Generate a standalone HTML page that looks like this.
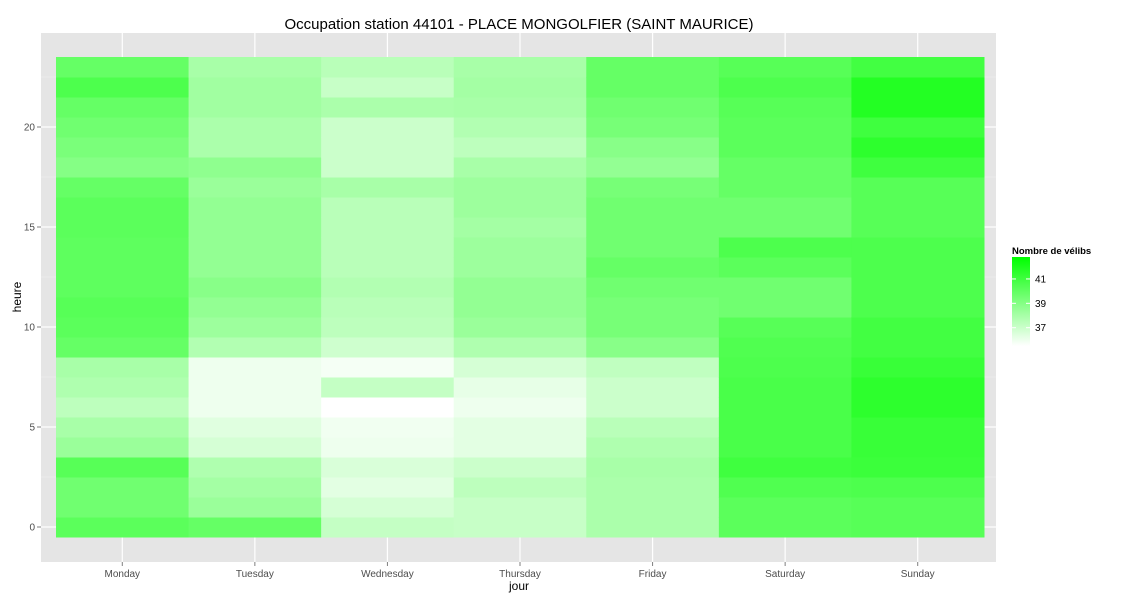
<!DOCTYPE html>
<html><head><meta charset="utf-8">
<style>body{margin:0;background:#fff;font-family:"Liberation Sans",sans-serif;}</style>
</head><body>
<svg id="chart" width="1125" height="600" xmlns="http://www.w3.org/2000/svg" font-family="Liberation Sans, sans-serif">
<rect x="41" y="33" width="955" height="529" fill="#e5e5e5"/>
<g id="grid"></g>
<g id="tiles"></g>
<g id="axes"></g>
<text x="519" y="29" font-size="15" text-anchor="middle" fill="#000">Occupation station 44101 - PLACE MONGOLFIER (SAINT MAURICE)</text>
<text x="519" y="590" font-size="12" text-anchor="middle">jour</text>
<text x="21" y="297" font-size="12" text-anchor="middle" transform="rotate(-90 21 297)">heure</text>
<g>
<text x="1012" y="254" font-size="9.5" font-weight="bold">Nombre de vélibs</text>
<defs><linearGradient id="lg" x1="0" y1="0" x2="0" y2="1"><stop offset="0" stop-color="#00ff00"/><stop offset="1" stop-color="#ffffff"/></linearGradient></defs>
<rect x="1012" y="257" width="18" height="89" fill="url(#lg)"/>
<g id="legend-ticks"></g>
</g>
</svg>
<script>
const days = ["Monday","Tuesday","Wednesday","Thursday","Friday","Saturday","Sunday"];
const yTicks = [0,5,10,15,20];
const legendTicks = [37,39,41];
const monday = [40.2,39.6,39.6,40.3,38.4,38.0,37.4,37.8,38.0,39.9,40.2,40.3,40.1,40.1,40.1,40.2,40.2,39.9,39.0,39.3,39.6,39.9,40.6,39.9];
const tuesday = [39.9,38.4,38.1,37.8,36.7,36.4,36.0,36.0,36.0,37.7,38.3,38.6,38.9,38.6,38.6,38.6,38.6,38.4,38.7,37.9,37.9,38.2,38.2,38.0];
const wednesday = [37.2,36.7,36.3,36.6,36.0,35.9,35.5,37.2,35.8,36.9,37.4,37.5,37.7,37.5,37.5,37.5,37.5,38.0,37.0,37.0,37.0,37.9,37.1,37.5];
const thursday = [37.1,37.1,37.4,37.0,36.3,36.3,36.0,36.2,36.7,37.8,38.4,38.6,38.6,38.3,38.3,38.1,38.3,38.3,38.0,37.4,37.7,38.0,38.1,38.0];
const friday = [37.9,37.9,37.9,38.0,37.8,37.5,37.0,37.0,37.3,38.9,39.4,39.4,39.6,39.9,39.6,39.6,39.6,39.4,38.6,38.9,39.4,39.6,39.9,39.9];
const saturday = [40.2,40.2,40.5,41.0,40.7,40.7,40.7,40.7,40.6,40.5,40.3,39.6,39.6,40.2,40.6,39.6,39.6,39.9,39.9,40.2,40.2,40.3,40.6,40.3];
const sunday = [40.3,40.3,40.6,41.1,41.2,41.2,41.5,41.5,41.2,40.9,40.9,40.6,40.6,40.6,40.6,40.3,40.3,40.3,41.0,41.5,41.0,41.8,41.8,40.9];
const series = [monday,tuesday,wednesday,thursday,friday,saturday,sunday];

const NS="http://www.w3.org/2000/svg";
const colW=(984-56)/7;
function xLeft(i){return 56+i*colW;}
function xCenter(i){return xLeft(i)+colW/2;}
function yH(h){return 527-h*20;}
const lo=35.5, hi=42.8;
function color(v){let t=(v-lo)/(hi-lo);t=Math.max(0,Math.min(1,t));const c=Math.round(255*(1-t));return `rgb(${c},255,${c})`;}
function legY(v){return 346-(v-lo)/(hi-lo)*89;}
function mk(tag,attrs,parent){const e=document.createElementNS(NS,tag);for(const k in attrs)e.setAttribute(k,attrs[k]);parent.appendChild(e);return e;}

const grid=document.getElementById('grid');
for(let h=-2.5;h<=25;h+=2.5){const y=yH(h);if(y<33||y>562)continue;
 const l=mk('line',{x1:41,x2:996,y1:y,y2:y,stroke:(h%5===0)?'#ffffff':'#f2f2f2','stroke-width':(h%5===0)?1.2:0.6},grid);
 
 }
days.forEach((d,i)=>{const l=mk('line',{x1:xCenter(i),x2:xCenter(i),y1:33,y2:562,stroke:'#ffffff','stroke-width':1.2},grid);
 
 });

const tiles=document.getElementById('tiles');
series.forEach((s,i)=>{s.forEach((v,h)=>{
 const r=mk('rect',{x:xLeft(i),y:yH(h)-10,width:colW+0.5,height:20.5,fill:color(v)},tiles);
 
 });});

const axes=document.getElementById('axes');
yTicks.forEach(t=>{const y=yH(t);
 const tk=mk('line',{x1:37,x2:41,y1:y,y2:y,stroke:'#7f7f7f'},axes);
 
 
 const tx=mk('text',{x:35,y:y+3.5,'font-size':10,'text-anchor':'end',fill:'#4d4d4d'},axes);tx.textContent=t;
 
 });
days.forEach((d,i)=>{const x=xCenter(i);
 const tk=mk('line',{x1:x,x2:x,y1:562,y2:566,stroke:'#7f7f7f'},axes);
 
 
 const tx=mk('text',{x:x,y:577,'font-size':10,'text-anchor':'middle',fill:'#4d4d4d'},axes);tx.textContent=d;
 
 });

const lt=document.getElementById('legend-ticks');
legendTicks.forEach(v=>{const y=legY(v);
 const a=mk('line',{x1:1012,x2:1016,y1:y,y2:y,stroke:'#fff'},lt);
 
 
 const b=mk('line',{x1:1026,x2:1030,y1:y,y2:y,stroke:'#fff'},lt);
 
 
 const tx=mk('text',{x:1035,y:y+3.5,'font-size':10,fill:'#000'},lt);tx.textContent=v;
 
 });
</script>
</body></html>
